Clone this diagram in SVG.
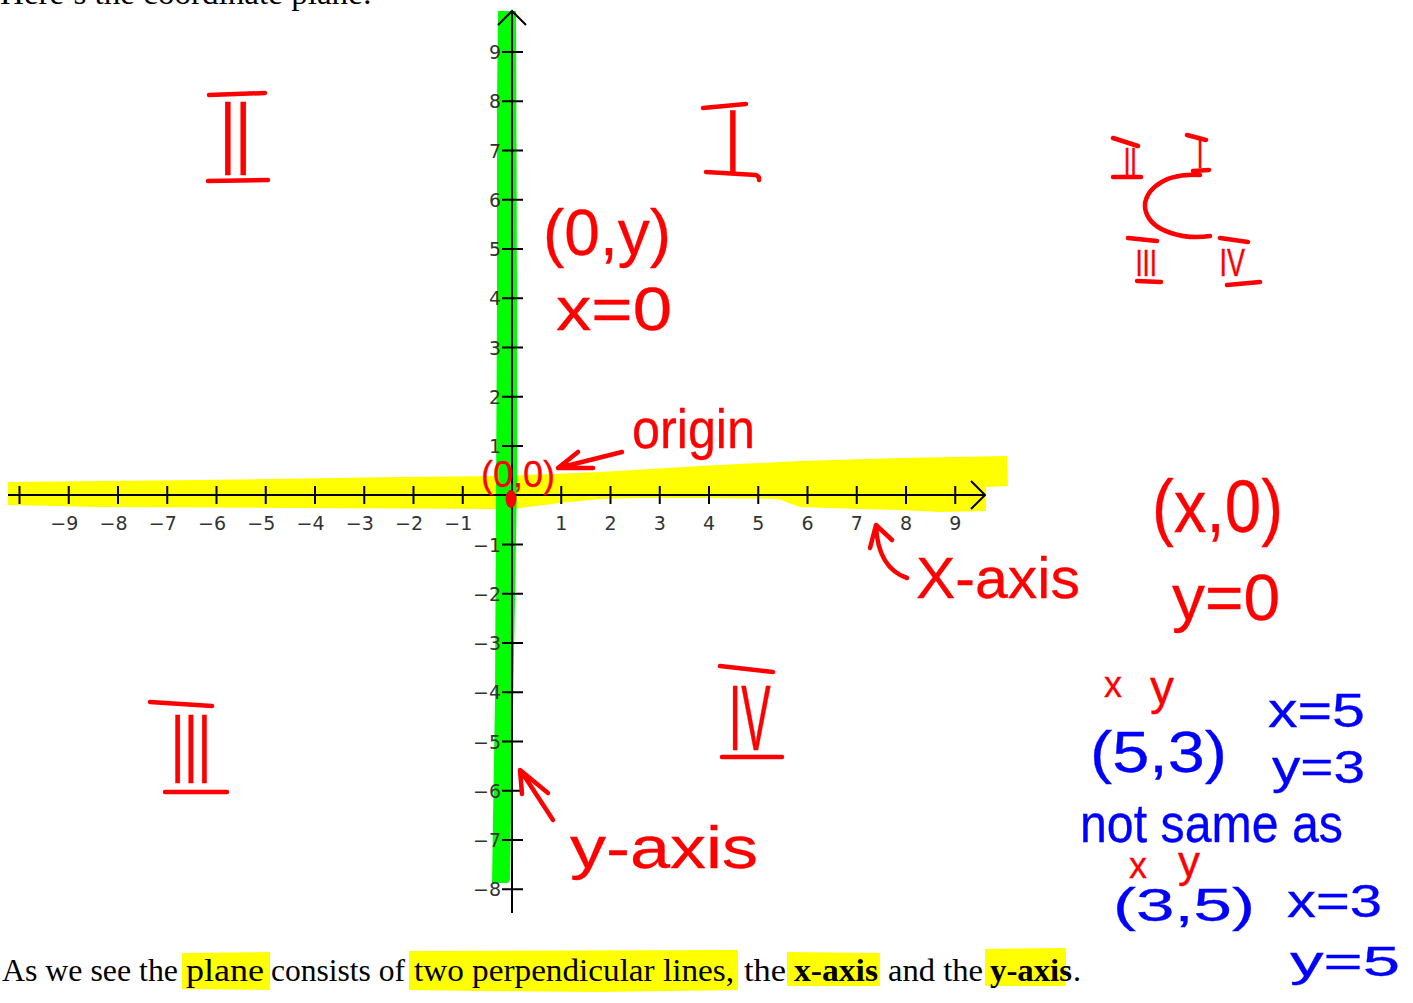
<svg xmlns="http://www.w3.org/2000/svg" width="1413" height="1003" viewBox="0 0 1413 1003">
<defs>
<style>
.hw{font-family:"Liberation Sans",Arial,sans-serif}
.red{fill:#ff0000;stroke:#ff0000;stroke-width:0.3}
.blue{fill:#0000ff;stroke:#0000ff;stroke-width:0.3}
.pen{fill:none;stroke:#ff0000;stroke-width:4.5;stroke-linecap:round;stroke-linejoin:round}
.ax{fill:none;stroke:#000;stroke-width:2}
.lbl{font-family:"DejaVu Sans",Verdana,sans-serif;font-size:19px;fill:#333}
.body{font-family:"Liberation Serif","Times New Roman",serif;font-size:32px;fill:#000}
.hl{fill:#ffff00}
</style>
</defs>
<rect width="1413" height="1003" fill="#ffffff"/>

<g id="highlights">
<polygon class="hl" points="8,482 200,480 400,477 500,476 600,472 700,466 800,461 900,458 1007,456 1008,486 986,487 986,511 940,512 900,510 860,509 800,507 778,499 700,498 640,498 600,499 560,503 520,508 500,509 300,508 100,507 8,505"/>
<polygon fill="#00ff00" points="498,11 516,11 517,300 517,480 515,600 512,760 510,880 508,883 492,883 493,820 495,700 496,500 497,300 497,100"/>
<polygon class="hl" points="182,953 270,952 270,990 182,989"/>
<polygon class="hl" points="409,951 738,950 738,990 600,992 480,991 409,990"/>
<polygon class="hl" points="787,952 880,953 880,986 787,986"/>
<polygon class="hl" points="985,949 1066,948 1066,986 985,986"/>
</g>

<g id="axes">
<path class="ax" d="M8,495H985M971,481L985,495L971,509"/>
<path class="ax" d="M512,11V913M498,25L512,11L526,25"/>
<path class="ax" d="M19.5,486V504M68.75,486V504M118,486V504M167.25,486V504M216.5,486V504M265.75,486V504M315,486V504M364.25,486V504M413.5,486V504M462.75,486V504M561.25,486V504M610.5,486V504M659.75,486V504M709,486V504M758.25,486V504M807.5,486V504M856.75,486V504M906,486V504M955.25,486V504"/>
<path class="ax" d="M502,52.05H523M502,101.3H523M502,150.55H523M502,199.8H523M502,249.05H523M502,298.3H523M502,347.55H523M502,396.8H523M502,446.05H523M502,544.55H523M502,593.8H523M502,643.05H523M502,692.3H523M502,741.55H523M502,790.8H523M502,840.05H523M502,889.3H523"/>
</g>

<g id="x-labels" class="lbl">
<g text-anchor="end">
<text x="78.25" y="530">−9</text>
<text x="127.5" y="530">−8</text>
<text x="176.75" y="530">−7</text>
<text x="226" y="530">−6</text>
<text x="275.25" y="530">−5</text>
<text x="324.5" y="530">−4</text>
<text x="373.75" y="530">−3</text>
<text x="423" y="530">−2</text>
<text x="472.25" y="530">−1</text>
</g>
<g text-anchor="middle">
<text x="561.25" y="530">1</text>
<text x="610.5" y="530">2</text>
<text x="659.75" y="530">3</text>
<text x="709" y="530">4</text>
<text x="758.25" y="530">5</text>
<text x="807.5" y="530">6</text>
<text x="856.75" y="530">7</text>
<text x="906" y="530">8</text>
<text x="955.25" y="530">9</text>
</g>
</g>

<g id="y-labels" class="lbl" text-anchor="end">
<text x="501" y="59">9</text>
<text x="501" y="108.3">8</text>
<text x="501" y="157.5">7</text>
<text x="501" y="206.8">6</text>
<text x="501" y="256">5</text>
<text x="501" y="305.3">4</text>
<text x="501" y="354.5">3</text>
<text x="501" y="403.8">2</text>
<text x="501" y="453">1</text>
<text x="501" y="551.5">−1</text>
<text x="501" y="600.8">−2</text>
<text x="501" y="650">−3</text>
<text x="501" y="699.3">−4</text>
<text x="501" y="748.5">−5</text>
<text x="501" y="797.8">−6</text>
<text x="501" y="847">−7</text>
<text x="501" y="896.3">−8</text>
</g>

<g id="origin-dot">
<ellipse cx="511" cy="499" rx="5.5" ry="9" fill="#ff0000"/>
</g>

<g id="quadrant-II">
<text class="hw red" font-size="56" transform="translate(220,175) scale(1,1.875)">II</text>
<path class="pen" d="M209,95L265,93M208,181L268,180"/>
</g>
<g id="quadrant-I">
<text class="hw red" font-size="56" transform="translate(725,172) scale(1,1.6)">I</text>
<path class="pen" d="M703,108L746,104M706,172L756,175Q760,177 759,180"/>
</g>
<g id="quadrant-III">
<text class="hw red" font-size="48" transform="translate(171,783) scale(1,2.06)">III</text>
<path class="pen" d="M150,702L212,706M165,792L227,792"/>
</g>
<g id="quadrant-IV">
<text class="hw red" font-size="44" transform="translate(729,750) scale(1,2.12)">IV</text>
<path class="pen" d="M720,666L773,672M722,757L782,757"/>
</g>

<g id="mini-quadrants">
<text class="hw red" font-size="24" transform="translate(1123.7,175) scale(1,1.6)">II</text>
<text class="hw red" font-size="24" transform="translate(1196.7,168) scale(1,1.75)">I</text>
<text class="hw red" font-size="26" transform="translate(1135.4,276) scale(1,1.4)">III</text>
<text class="hw red" font-size="27" transform="translate(1219.5,276) scale(1,1.45)">IV</text>
<path class="pen" d="M1113,138L1138,146M1113,177L1141,177M1187,135L1206,140M1193,171L1209,170M1128,238L1157,241M1137,281L1161,282M1220,238L1248,242M1227,285L1260,282"/>
<path class="pen" d="M1200,175C1160,172 1140,195 1146,212C1152,232 1185,240 1210,236"/>
</g>

<g id="y-axis-note">
<text class="hw red" x="543" y="255" font-size="64">(0,y)</text>
<text class="hw red" x="556" y="330" font-size="62" textLength="116" lengthAdjust="spacingAndGlyphs">x=0</text>
</g>

<g id="origin-label">
<text class="hw red" x="481" y="487" font-size="36">(0,0)</text>
<text class="hw red" x="632" y="448" font-size="56" textLength="123" lengthAdjust="spacingAndGlyphs">origin</text>
</g>

<g id="x-axis-label">
<text class="hw red" x="916" y="598" font-size="58" textLength="164" lengthAdjust="spacingAndGlyphs">X-axis</text>
</g>

<g id="x-axis-note">
<text class="hw red" x="1152" y="532" font-size="74" textLength="131" lengthAdjust="spacingAndGlyphs">(x,0)</text>
<text class="hw red" x="1172" y="620" font-size="64" textLength="108" lengthAdjust="spacingAndGlyphs">y=0</text>
</g>

<g id="y-axis-label">
<text class="hw red" x="570" y="868" font-size="60" textLength="188" lengthAdjust="spacingAndGlyphs">y-axis</text>
</g>

<g id="order-note">
<text class="hw red" x="1104" y="697" font-size="36">x</text>
<text class="hw red" x="1150" y="704" font-size="48">y</text>
<text class="hw blue" x="1090" y="772" font-size="58" textLength="137" lengthAdjust="spacingAndGlyphs">(5,3)</text>
<text class="hw blue" x="1268" y="727" font-size="48" textLength="97" lengthAdjust="spacingAndGlyphs">x=5</text>
<text class="hw blue" x="1272" y="783" font-size="46" textLength="93" lengthAdjust="spacingAndGlyphs">y=3</text>
<text class="hw blue" x="1080" y="842" font-size="54" textLength="263" lengthAdjust="spacingAndGlyphs">not same as</text>
<text class="hw red" x="1129" y="878" font-size="36">x</text>
<text class="hw red" x="1178" y="877" font-size="44">y</text>
<text class="hw blue" x="1113" y="921" font-size="46" textLength="142" lengthAdjust="spacingAndGlyphs">(3,5)</text>
<text class="hw blue" x="1287" y="917" font-size="46" textLength="95" lengthAdjust="spacingAndGlyphs">x=3</text>
<text class="hw blue" x="1290" y="976" font-size="42" textLength="110" lengthAdjust="spacingAndGlyphs">y=5</text>
</g>

<g id="connectors">
<path class="pen" d="M622,452L558,468M578,452L558,468L593,468"/>
<path class="pen" d="M907,578Q878,568 876,526M870,548L876,525L892,540"/>
<path class="pen" d="M553,820L521,771M522,794L520,770L548,793"/>
</g>

<g id="caption">
<text class="body" x="0" y="4" textLength="372" lengthAdjust="spacingAndGlyphs">Here’s the coordinate plane:</text>
<text class="body" x="2" y="981" textLength="176" lengthAdjust="spacingAndGlyphs">As we see the</text>
<text class="body" x="186" y="981" textLength="78" lengthAdjust="spacingAndGlyphs">plane</text>
<text class="body" x="271" y="981" textLength="134" lengthAdjust="spacingAndGlyphs">consists of</text>
<text class="body" x="414" y="981" textLength="320" lengthAdjust="spacingAndGlyphs">two perpendicular lines,</text>
<text class="body" x="744" y="981" textLength="42" lengthAdjust="spacingAndGlyphs">the</text>
<text class="body" x="794" y="981" font-weight="bold" textLength="84" lengthAdjust="spacingAndGlyphs">x-axis</text>
<text class="body" x="888" y="981" textLength="95" lengthAdjust="spacingAndGlyphs">and the</text>
<text class="body" x="990" y="981" font-weight="bold" textLength="82" lengthAdjust="spacingAndGlyphs">y-axis</text>
<text class="body" x="1073" y="981">.</text>
</g>
</svg>
